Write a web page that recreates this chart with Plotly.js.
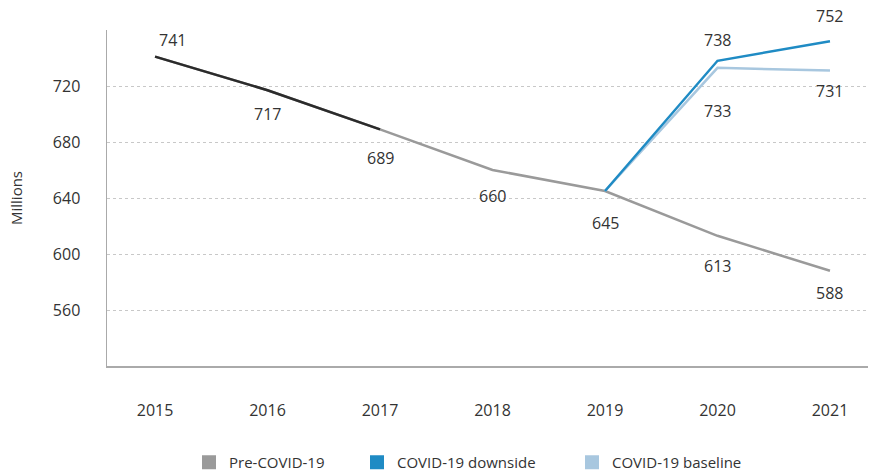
<!DOCTYPE html>
<html>
<head>
<meta charset="utf-8">
<script src="https://cdn.plot.ly/plotly-3.0.1.min.js"></script>
<style>html,body{margin:0;padding:0;background:#fff;}#chart{width:871px;height:474px;}</style>
</head>
<body>
<div id="chart"></div>
<script>
const years = [2015, 2016, 2017, 2018, 2019, 2020, 2021];
const preCovid = [741, 717, 689, 660, 645, 613, 588];
const historicalYears = [2015, 2016, 2017];
const historical = [741, 717, 689];
const scenarioYears = [2019, 2020, 2021];
const downside = [645, 738, 752];
const baseline = [645, 733, 731];
const yTicks = [560, 600, 640, 680, 720];
const seriesNames = ['Pre-COVID-19', 'COVID-19 downside', 'COVID-19 baseline'];

const FONT = 'Open Sans, sans-serif';
const TXT = '#333333';
const C_PRE = '#9a9a9a', C_HIST = '#2b2b2b', C_DOWN = '#1f8bc4', C_BASE = '#a8c7df';
const legendColors = [C_PRE, C_DOWN, C_BASE];
const legendIds = ['legend', 'legend2', 'legend3'];

const traces = [
  {x: years, y: preCovid, mode: 'lines', line: {color: C_PRE, width: 2.5}, showlegend: false, hoverinfo: 'skip'},
  {x: historicalYears, y: historical, mode: 'lines', line: {color: C_HIST, width: 2.5}, showlegend: false, hoverinfo: 'skip'},
  {x: scenarioYears, y: baseline, mode: 'lines', line: {color: C_BASE, width: 2.5}, showlegend: false, hoverinfo: 'skip'},
  {x: scenarioYears, y: downside, mode: 'lines', line: {color: C_DOWN, width: 2.5}, showlegend: false, hoverinfo: 'skip'}
];
seriesNames.forEach((n, i) => traces.push({x: [null], y: [null], mode: 'markers', name: n, legend: legendIds[i],
  marker: {symbol: 'square', size: 14, color: legendColors[i]}}));

const preShift = [[17, 17], [0, -24], [0, -29], [0, -26], [0, -32], [0, -30], [0, -22]];
const downShift = [[0, 21], [0, 25]];
const baseShift = [[0, -43], [0, -20]];
const annotations = [];
function lab(x, y, s) {
  annotations.push({x: x, y: y, xref: 'x', yref: 'y', text: String(y), showarrow: false,
    xshift: s[0], yshift: s[1], font: {family: FONT, size: 16, color: TXT}});
}
years.forEach((yr, i) => lab(yr, preCovid[i], preShift[i]));
[1, 2].forEach((k, j) => lab(scenarioYears[k], downside[k], downShift[j]));
[1, 2].forEach((k, j) => lab(scenarioYears[k], baseline[k], baseShift[j]));

const legendX = [189, 357, 572];
const layout = {
  width: 871, height: 474,
  margin: {l: 107, r: 3, t: 30, b: 108},
  paper_bgcolor: '#ffffff', plot_bgcolor: '#ffffff',
  font: {family: FONT, color: TXT, size: 14},
  showlegend: true,
  xaxis: {
    range: [2014.573, 2021.338], tickvals: years, ticktext: years.map(String), automargin: false,
    showgrid: false, zeroline: false, showline: true, linecolor: '#aaaaaa', linewidth: 1.5,
    ticks: '', ticklabelstandoff: 29, tickfont: {family: FONT, size: 16, color: TXT}
  },
  yaxis: {
    range: [520, 760], tickvals: yTicks, automargin: false, showgrid: true, gridcolor: '#c8c8c8', griddash: 'dot', gridwidth: 1,
    zeroline: false, showline: true, linecolor: '#aaaaaa', linewidth: 1.5, ticks: '', ticklabelstandoff: 22,
    tickfont: {family: FONT, size: 16, color: TXT},
    title: {text: 'Millions', font: {family: FONT, size: 15, color: TXT}, standoff: 26}
  },
  annotations: annotations
};
legendIds.forEach((id, i) => {
  layout[id] = {orientation: 'h', xref: 'container', yref: 'container', x: legendX[i] / 871, xanchor: 'left',
    y: 28 / 474, yanchor: 'top', font: {family: FONT, size: 15, color: TXT}, borderwidth: 0,
    bgcolor: 'rgba(0,0,0,0)'};
});
Plotly.newPlot('chart', traces, layout, {staticPlot: true, displayModeBar: false});
</script>
</body>
</html>
